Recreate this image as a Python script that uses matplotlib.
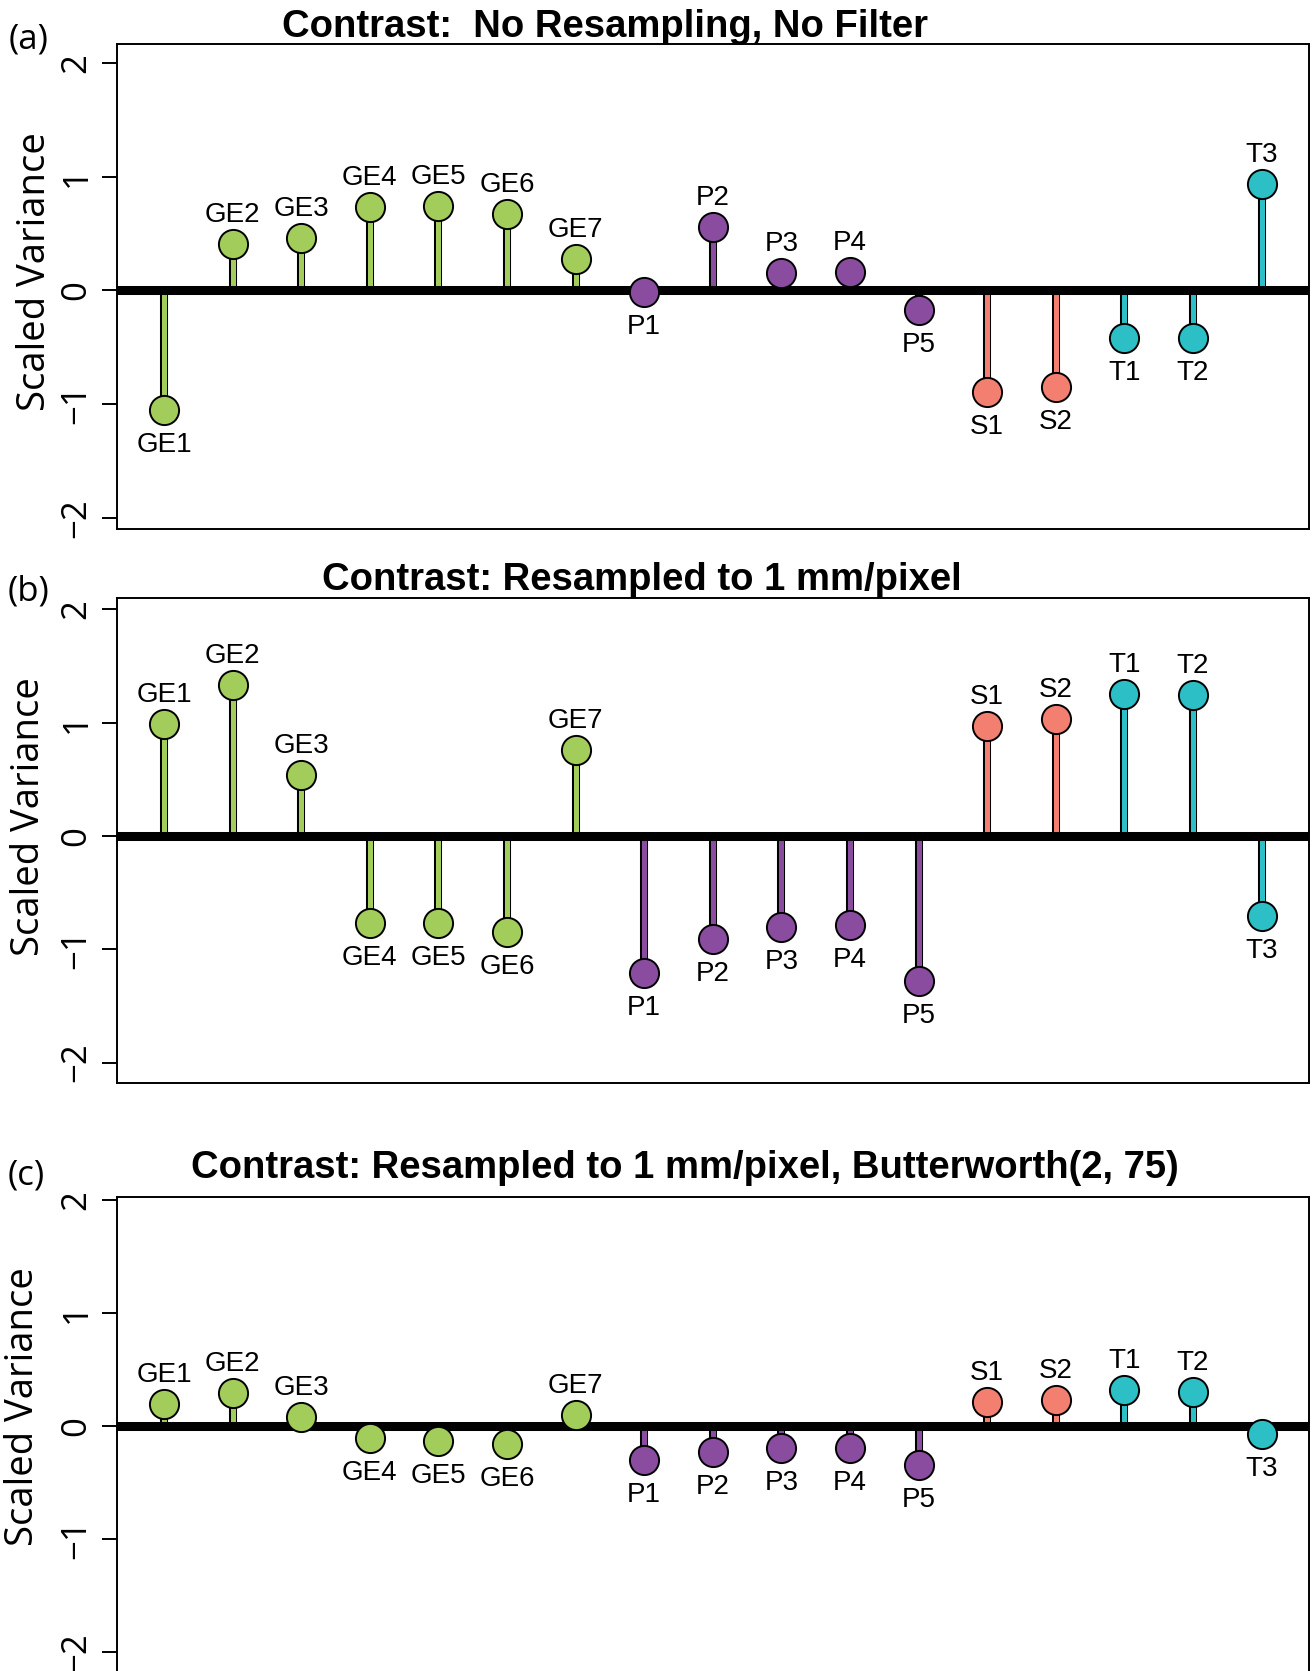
"""Scaled variance contrasts: three stem-plot panels (R-style)."""
import matplotlib
matplotlib.use("Agg")
import matplotlib.pyplot as plt

W, H = 1314, 1671
DPI = 100

names = ["GE1", "GE2", "GE3", "GE4", "GE5", "GE6", "GE7",
         "P1", "P2", "P3", "P4", "P5", "S1", "S2", "T1", "T2", "T3"]
groups = ["GE"] * 7 + ["P"] * 5 + ["S"] * 2 + ["T"] * 3

# scaled variance per panel
vals_a = [-1.05, 0.41, 0.46, 0.73, 0.74, 0.67, 0.28,
          -0.01, 0.56, 0.15, 0.16, -0.17, -0.89, -0.85, -0.42, -0.42, 0.94]
vals_b = [0.99, 1.33, 0.54, -0.77, -0.77, -0.85, 0.76,
          -1.21, -0.91, -0.80, -0.79, -1.28, 0.97, 1.03, 1.25, 1.24, -0.71]
vals_c = [0.20, 0.29, 0.08, -0.10, -0.13, -0.16, 0.10,
          -0.30, -0.23, -0.19, -0.19, -0.34, 0.21, 0.23, 0.32, 0.30, -0.07]

titles = ["Contrast:  No Resampling, No Filter",
          "Contrast: Resampled to 1 mm/pixel",
          "Contrast: Resampled to 1 mm/pixel, Butterworth(2, 75)"]
letters = ["(a)", "(b)", "(c)"]

colors = {"GE": "#A2CD5A", "P": "#8A4C9F", "S": "#F27F70", "T": "#2DBFC6"}

SANS = ["Liberation Sans", "DejaVu Sans"]
MYR = ["Open Sans", "DejaVu Sans"]

# panel layout, pixel coordinates (top, bottom) and y-limits
boxes = [(44, 529, (-2.097, 2.167)),
         (598, 1083, (-2.18, 2.10)),
         (1197, 1671, (-2.168, 2.03))]
title_pos = [(605, 37), (642, 590), (685, 1178)]
letter_pos = [(9, 40), (8, 591), (8, 1176)]
ylab_pos = [(35, 272), (29, 817), (23, 1407)]
LEFT, RIGHT = 117, 1309


def fx(px):
    return px / W


def fy(py):
    return 1 - py / H


fig = plt.figure(figsize=(W / DPI, H / DPI), dpi=DPI)

panels = [vals_a, vals_b, vals_c]
for i, vals in enumerate(panels):
    top, bot, ylim = boxes[i]
    ax = fig.add_axes([fx(LEFT), fy(bot), fx(RIGHT - LEFT), (bot - top) / H])
    x = list(range(1, len(vals) + 1))
    for xi, v, g in zip(x, vals, groups):
        ax.plot([xi, xi], [0, v], color="black", lw=5.8,
                solid_capstyle="butt", zorder=2)
        ax.plot([xi, xi], [0, v], color=colors[g], lw=3.6,
                solid_capstyle="butt", zorder=3)
    ax.axhline(0, color="black", lw=6.5, zorder=4)
    for xi, v, g, n in zip(x, vals, groups, names):
        ax.plot(xi, v, "o", ms=21, mfc=colors[g], mec="black", mew=1.4,
                zorder=5)
        off = 22 if v >= 0 else -42
        ax.annotate(n, (xi, v), xytext=(0, off), textcoords="offset pixels",
                    ha="center", va="baseline", fontsize=20, family=SANS)

    ax.set_xlim(0.315, 17.69)
    ax.set_ylim(*ylim)
    ax.set_xticks([])
    ax.set_yticks([-2, -1, 0, 1, 2])
    ax.set_yticklabels(["\u22122", "\u22121", "0", "1", "2"],
                       family=MYR, fontsize=25)
    for lab in ax.get_yticklabels():
        lab.set_rotation(90)
        lab.set_va("center")
    ax.tick_params(axis="y", length=11, width=1.4, pad=6)
    for sp in ax.spines.values():
        sp.set_linewidth(1.4)
    if i == 2:
        ax.spines["bottom"].set_visible(False)

    tx, ty = title_pos[i]
    fig.text(fx(tx), fy(ty), titles[i], ha="center", va="baseline",
             fontsize=27.5, fontweight="bold", family=SANS)
    lx, ly = letter_pos[i]
    fig.text(fx(lx), fy(ly), letters[i], ha="left", va="center",
             fontsize=25, family=MYR)
    yx, yy = ylab_pos[i]
    fig.text(fx(yx), fy(yy), "Scaled Variance", ha="center", va="center",
             rotation=90, fontsize=27.5, family=MYR)

fig.savefig("out.png", dpi=DPI)
